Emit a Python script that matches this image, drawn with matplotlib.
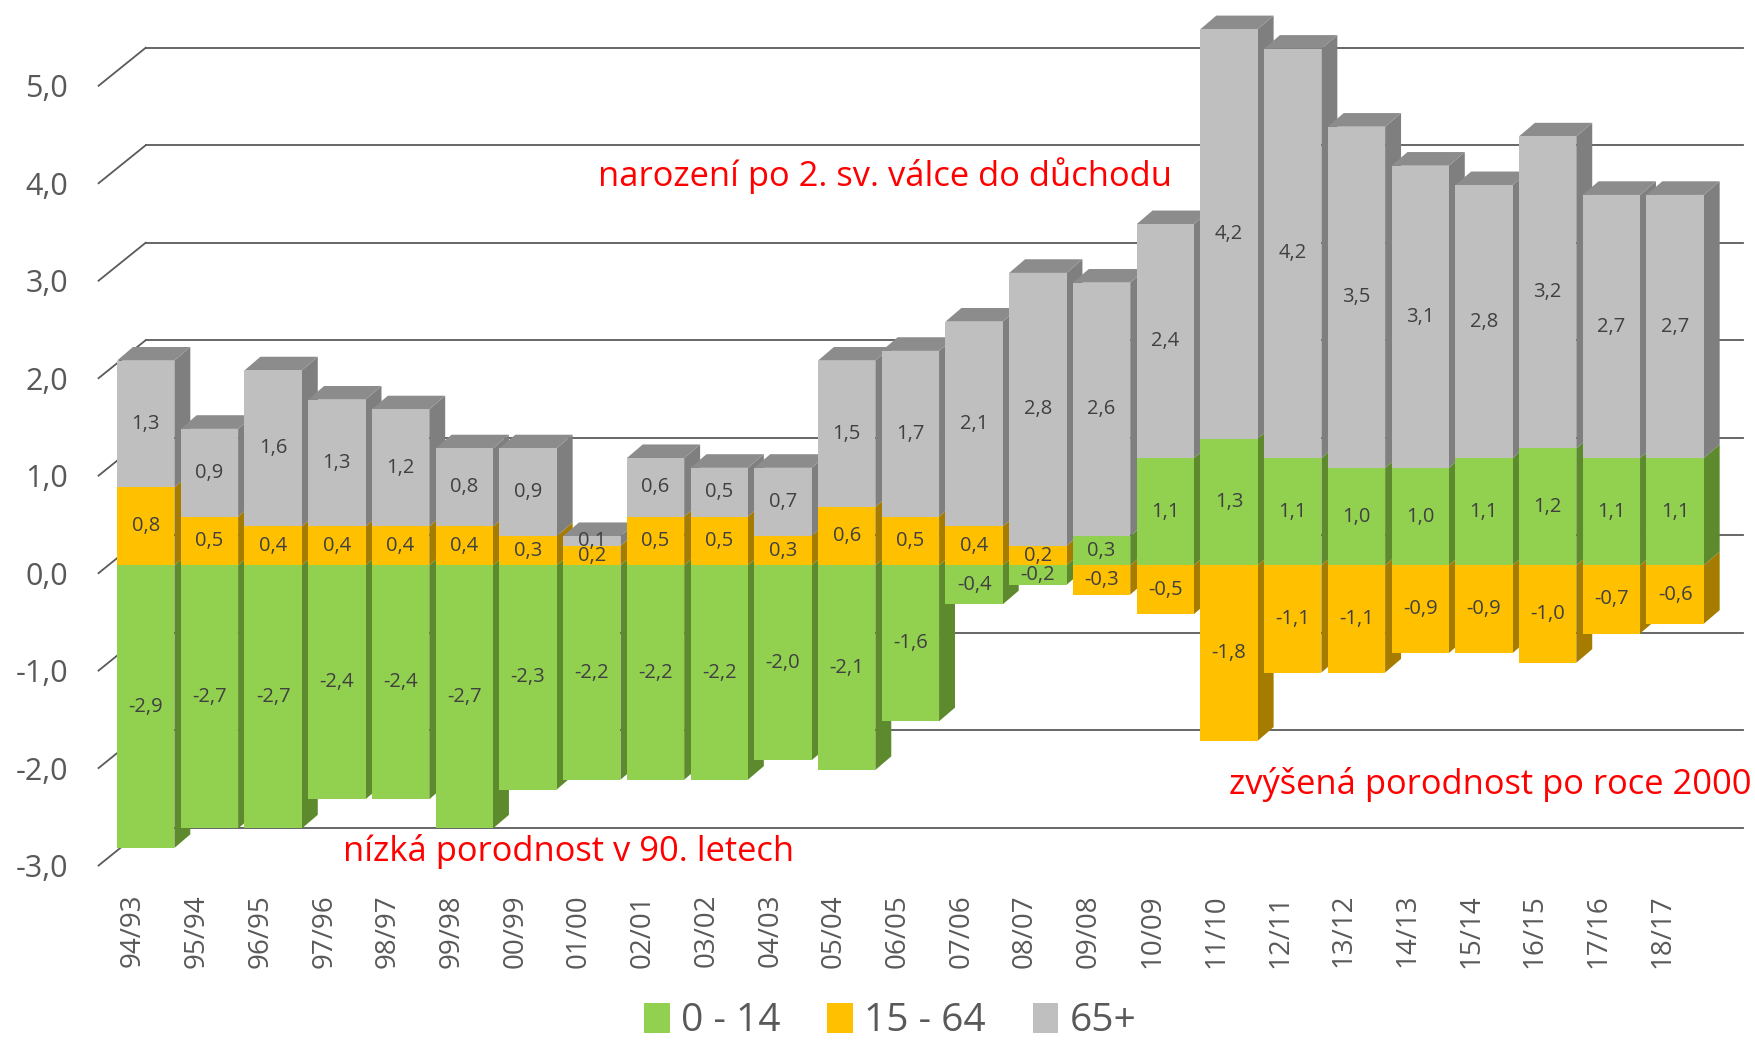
import numpy as np
import matplotlib.pyplot as plt
from matplotlib.patches import Polygon, Patch

plt.rcParams['font.family'] = ['Open Sans', 'DejaVu Sans']

periods = ['94/93', '95/94', '96/95', '97/96', '98/97', '99/98', '00/99', '01/00',
           '02/01', '03/02', '04/03', '05/04', '06/05', '07/06', '08/07', '09/08',
           '10/09', '11/10', '12/11', '13/12', '14/13', '15/14', '16/15', '17/16', '18/17']
age_0_14 = [-2.9, -2.7, -2.7, -2.4, -2.4, -2.7, -2.3, -2.2, -2.2, -2.2, -2.0, -2.1, -1.6,
            -0.4, -0.2, 0.3, 1.1, 1.3, 1.1, 1.0, 1.0, 1.1, 1.2, 1.1, 1.1]
age_15_64 = [0.8, 0.5, 0.4, 0.4, 0.4, 0.4, 0.3, 0.2, 0.5, 0.5, 0.3, 0.6, 0.5,
             0.4, 0.2, -0.3, -0.5, -1.8, -1.1, -1.1, -0.9, -0.9, -1.0, -0.7, -0.6]
age_65 = [1.3, 0.9, 1.6, 1.3, 1.2, 0.8, 0.9, 0.1, 0.6, 0.5, 0.7, 1.5, 1.7,
          2.1, 2.8, 2.6, 2.4, 4.2, 4.2, 3.5, 3.1, 2.8, 3.2, 2.7, 2.7]
grid_values = list(range(-3, 6))

# (legend label, values, front colour, side colour, top colour)
SERIES = [
    ('0 - 14', age_0_14, '#92D050', '#5E8A2E', '#6F9E3A'),
    ('15 - 64', age_15_64, '#FFC000', '#A67C00', '#C99700'),
    ('65+', age_65, '#BFBFBF', '#7F7F7F', '#8C8C8C'),
]

W = 0.9                      # front face width
DX, DY = 0.25, 0.14          # bar depth (side / top faces)
WX, WY = 0.74, 0.39          # front -> back wall offset
LBL_DY = -0.08               # axis labels sit a bit below the bar plane
X0, X1, Y0, Y1 = -0.74, 25.27, -3.3, 5.8

fig = plt.figure(figsize=(17.56, 10.46), dpi=100)
ax = fig.add_axes([88 / 1568, 1 - 792 / 934, 1 - 88 / 1568, 792 / 934])
ax.set_xlim(X0, X1)
ax.set_ylim(Y0, Y1)
for s in ax.spines.values():
    s.set_visible(False)

# back wall gridlines + diagonal connectors
for v in grid_values:
    ax.plot([0, 25.06], [v + LBL_DY + WY] * 2, color='#5a5a5a', lw=1.3, zorder=1)
    ax.plot([X0, X0 + WX], [v + LBL_DY, v + LBL_DY + WY], color='#5a5a5a', lw=1.3,
            zorder=1, clip_on=False)

for i in range(len(periods)):
    z = 3 + i * 0.1
    pos, neg = 0.0, 0.0
    top_col, top_y = None, None
    for k, (lab, vals, c, c_side, c_top) in enumerate(SERIES):
        v = vals[i]
        if v >= 0:
            y0 = pos
            pos += v
            top_col, top_y = c_top, pos
            zs = z + 0.02 + k * 0.001
        else:
            y0 = neg + v
            neg += v
            zs = z + 0.01
        y1 = y0 + abs(v)
        ax.bar(i, abs(v), bottom=y0, width=W, color=c, zorder=z + 0.05, linewidth=0)
        xr = i + W / 2
        ax.add_patch(Polygon([(xr, y0), (xr + DX, y0 + DY), (xr + DX, y1 + DY), (xr, y1)],
                             closed=True, facecolor=c_side, edgecolor='none', zorder=zs))
        ax.text(i, (y0 + y1) / 2, f'{v:.1f}'.replace('.', ','), ha='center', va='center',
                fontsize=14.5, color='#404040', zorder=100)
    if top_y is not None:
        xl = i - W / 2
        ax.add_patch(Polygon([(xl, top_y), (xl + W, top_y), (xl + W + DX, top_y + DY),
                              (xl + DX, top_y + DY)],
                             closed=True, facecolor=top_col, edgecolor='none', zorder=z + 0.03))

ax.set_yticks([v + LBL_DY for v in grid_values])
ax.set_yticklabels([f'{v},0' for v in grid_values], fontsize=22, color='#595959')
ax.set_xticks(np.arange(len(periods)) - 0.2)
ax.set_xticklabels(periods, rotation=90, fontsize=20, color='#595959')
ax.tick_params(axis='y', length=0, pad=22)
ax.tick_params(axis='x', length=0, pad=5)

ax.text(11.6, 4.0, 'narození po 2. sv. válce do důchodu', color='#FF0000',
        fontsize=24.8, ha='center', va='center', zorder=100)
ax.text(17.0, -2.25, 'zvýšená porodnost po roce 2000', color='#FF0000',
        fontsize=24.8, ha='left', va='center', zorder=100, clip_on=False)
ax.text(3.09, -2.94, 'nízká porodnost v 90. letech', color='#FF0000',
        fontsize=24.8, ha='left', va='center', zorder=100)

handles = [Patch(facecolor=c, edgecolor='none', label=lab) for lab, _, c, _, _ in SERIES]
fig.legend(handles=handles, loc='lower center', bbox_to_anchor=(0.507, -0.028), ncol=3,
           frameon=False, fontsize=28, handlelength=0.65, handleheight=0.8,
           handletextpad=0.3, columnspacing=1.2, labelcolor='#595959')

fig.savefig('out.png', dpi=100)
